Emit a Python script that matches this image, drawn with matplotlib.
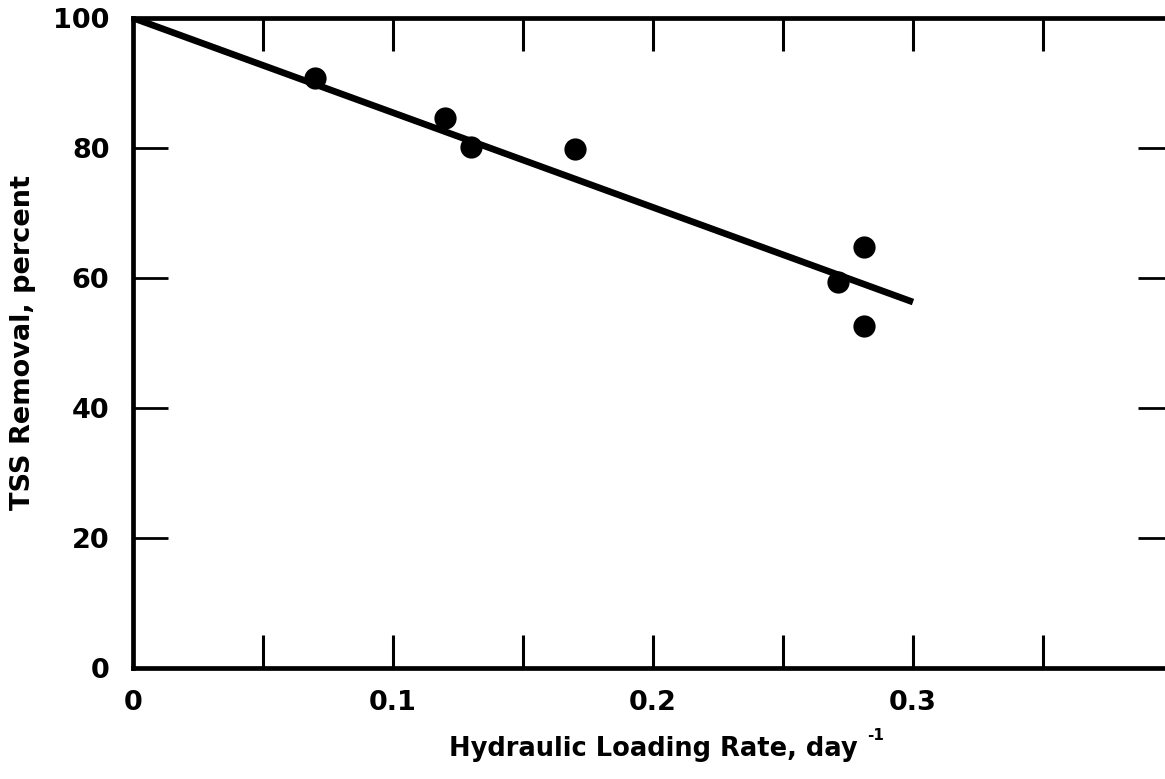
import matplotlib
matplotlib.use("Agg")
import matplotlib.pyplot as plt
from matplotlib.ticker import FixedLocator, NullFormatter

plt.rcParams['font.family'] = ['DejaVu Sans']

# Observed TSS removal vs hydraulic loading rate
loading_rate = [0.070, 0.120, 0.130, 0.170, 0.271, 0.281, 0.281]
tss_removal = [90.8, 84.6, 80.2, 79.8, 59.4, 64.8, 52.6]

# Fitted line end points
fit_x = [0.0, 0.30]
fit_y = [100.0, 56.3]

x_ticks = [0.05, 0.10, 0.15, 0.20, 0.25, 0.30, 0.35]
x_label_pos = [0, 0.1, 0.2, 0.3]
x_ticklabels = ["0", "0.1", "0.2", "0.3"]
y_ticks = [20, 40, 60, 80]
y_label_pos = [0, 20, 40, 60, 80, 100]

fig = plt.figure(figsize=(11.65, 7.79), dpi=100)
ax = fig.add_axes([133 / 1165, 111 / 779, 1040 / 1165, 650 / 779])
ax.set_xlim(0, 0.4)
ax.set_ylim(0, 100)

ax.plot(fit_x, fit_y, color="black", lw=4.8, solid_capstyle="butt", zorder=2)
ax.plot(loading_rate, tss_removal, "o", color="black", ms=16, mew=0, zorder=3)

for s in ax.spines.values():
    s.set_linewidth(3.4)
    s.set_color("black")

# inward tick marks on all four sides (minor locators carry the marks)
ax.xaxis.remove_overlapping_locs = False
ax.yaxis.remove_overlapping_locs = False
ax.xaxis.set_major_locator(FixedLocator(x_label_pos))
ax.set_xticklabels(x_ticklabels)
ax.xaxis.set_minor_locator(FixedLocator(x_ticks))
ax.yaxis.set_major_locator(FixedLocator(y_label_pos))
ax.set_yticklabels([str(v) for v in y_label_pos])
ax.yaxis.set_minor_locator(FixedLocator(y_ticks))
ax.xaxis.set_minor_formatter(NullFormatter())
ax.yaxis.set_minor_formatter(NullFormatter())

ax.tick_params(axis="both", which="major", length=0, labelsize=19.5)
ax.tick_params(axis="x", which="major", pad=16)
ax.tick_params(axis="y", which="major", pad=17)
ax.tick_params(axis="x", which="minor", direction="in", length=24, width=2.2,
               top=True, bottom=True)
ax.tick_params(axis="y", which="minor", direction="in", length=25, width=2.0,
               left=True, right=True)

for lbl in ax.get_xticklabels() + ax.get_yticklabels():
    lbl.set_fontweight("bold")

ax.set_ylabel("TSS Removal, percent", fontsize=19.5, fontweight="bold", labelpad=12)
ax.set_xlabel("Hydraulic Loading Rate, day", fontsize=18.5, fontweight="bold",
              labelpad=14)

# exponent of the unit, raised after the x label
fig.text(867 / 1165, 1 - 736 / 779, "-1", fontsize=11, fontweight="bold",
         ha="left", va="center")

fig.savefig("out.png", dpi=100, facecolor="white")
